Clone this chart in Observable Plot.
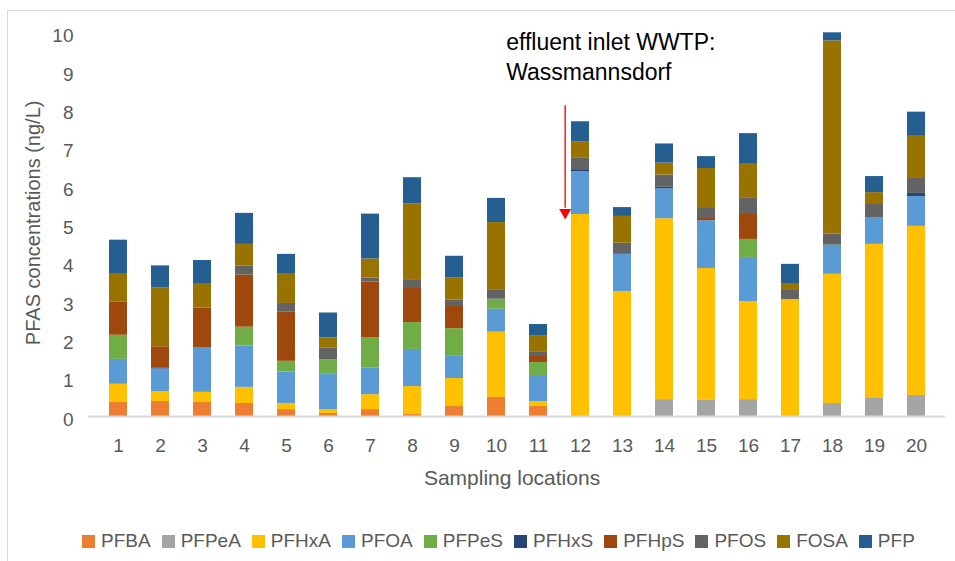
<!DOCTYPE html>
<html>
<head>
<meta charset="utf-8">
<script src="https://cdn.jsdelivr.net/npm/d3@7"></script>
<script src="https://cdn.jsdelivr.net/npm/@observablehq/plot@0.6"></script>
<style>
  html, body { margin: 0; padding: 0; background: white; }
  #wrap { position: relative; width: 955px; height: 561px; overflow: hidden; font-family: "Liberation Sans", Arial, sans-serif; }
  #border { position: absolute; left: 7px; top: 10px; width: 1000px; height: 600px; border: 1px solid #d9d9d9; box-sizing: border-box; }
  #chart { position: absolute; left: 0; top: 0; }
  #legend { position: absolute; left: 82px; top: 531px; height: 20px; display: flex; align-items: center; font-size: 19px; color: #595959; white-space: nowrap; }
  .item { display: flex; align-items: center; margin-right: 11px; }
  .sw { width: 13px; height: 13px; margin-right: 6px; }
</style>
</head>
<body>
<div id="wrap">
  <div id="border"></div>
  <div id="chart"></div>
  <div id="legend"></div>
</div>
<script>
const locations = ["1","2","3","4","5","6","7","8","9","10","11","12","13","14","15","16","17","18","19","20"];
const compounds = ["PFBA","PFPeA","PFHxA","PFOA","PFPeS","PFHxS","PFHpS","PFOS","FOSA","PFP"];
const colors = ["#ED7D31","#A5A5A5","#FFC000","#5B9BD5","#70AD47","#264478","#9E480E","#636363","#997300","#255E91"];

const PFBA  = [0.37,0.39,0.37,0.34,0.18,0.08,0.18,0.05,0.26,0.50,0.26,0,0,0,0,0,0,0,0,0];
const PFPeA = [0,0,0,0,0,0,0,0,0,0,0,0,0,0.44,0.42,0.44,0,0.34,0.47,0.55];
const PFHxA = [0.47,0.26,0.26,0.42,0.16,0.10,0.39,0.73,0.73,1.70,0.13,5.27,3.26,4.72,3.44,2.56,3.05,3.37,4.02,4.41];
const PFOA  = [0.65,0.59,1.17,1.08,0.82,0.92,0.70,0.97,0.58,0.60,0.68,1.12,0.97,0.78,1.25,1.15,0,0.76,0.70,0.78];
const PFPeS = [0.63,0,0,0.49,0.28,0.38,0.78,0.70,0.72,0.26,0.34,0,0,0,0,0.47,0,0,0,0];
const PFHxS = [0,0.03,0,0,0,0,0,0,0,0,0,0.05,0,0.05,0,0,0,0,0,0.08];
const PFHpS = [0.86,0.55,1.03,1.36,1.28,0,1.46,0.89,0.58,0,0.18,0,0,0,0.08,0.65,0,0,0,0];
const PFOS  = [0,0,0,0.23,0.23,0.31,0.10,0.23,0.17,0.23,0.10,0.31,0.29,0.31,0.26,0.42,0.26,0.29,0.34,0.39];
const FOSA  = [0.73,1.54,0.64,0.57,0.78,0.26,0.50,1.98,0.57,1.77,0.42,0.42,0.70,0.31,1.02,0.91,0.16,5.04,0.31,1.10];
const PFP   = [0.89,0.57,0.60,0.81,0.50,0.65,1.17,0.68,0.57,0.63,0.29,0.52,0.23,0.50,0.31,0.78,0.50,0.21,0.42,0.63];

const yTicks = [0,1,2,3,4,5,6,7,8,9,10];
const yLabel = "PFAS concentrations (ng/L)";
const xLabel = "Sampling locations";
const annotation = "effluent inlet WWTP:\nWassmannsdorf";
const annotationAt = "12";
const arrowFrom = 8.11, arrowTo = 5.43, arrowHead = 5.32;

const seriesValues = [PFBA, PFPeA, PFHxA, PFOA, PFPeS, PFHxS, PFHpS, PFOS, FOSA, PFP];
const rows = compounds.flatMap((c, ci) =>
  seriesValues[ci].map((v, i) => ({location: locations[i], compound: c, value: v}))
).filter(d => d.value > 0);

const plot = Plot.plot({
  width: 955,
  height: 500,
  marginTop: 32.7,
  marginBottom: 84,
  marginLeft: 88,
  marginRight: 10,
  style: {fontFamily: '"Liberation Sans", Arial, sans-serif', fontSize: "19px", color: "#595959", background: "transparent", overflow: "visible"},
  x: {domain: locations, paddingInner: 0.58, paddingOuter: 0.3, axis: null},
  y: {domain: [0, 10], axis: null},
  color: {domain: compounds, range: colors},
  marks: [
    Plot.barY(rows, {x: "location", y: "value", fill: "compound"}),
    Plot.ruleY([0], {stroke: "#d9d9d9", strokeWidth: 2}),
    Plot.axisY(yTicks, {tickSize: 0, tickPadding: 15, label: null, dy: 3, fill: "#595959"}),
    Plot.axisX({tickSize: 0, tickPadding: 22, label: null, fill: "#595959"}),
    Plot.text([yLabel], {frameAnchor: "left", textAnchor: "middle", lineAnchor: "middle", rotate: -90, dx: -55, dy: -2, fontSize: 20, fill: "#595959"}),
    Plot.text([xLabel], {frameAnchor: "bottom", textAnchor: "middle", lineAnchor: "middle", dy: 62, dx: -5, fontSize: 21, fill: "#595959"}),
    Plot.ruleX([annotationAt], {x: d => d, y1: arrowFrom, y2: arrowTo, dx: -15.3, stroke: "#ff1a1a", strokeWidth: 1.5}),
    Plot.dot([annotationAt], {x: d => d, y: arrowHead, dx: -15.3, symbol: "triangle", rotate: 180, r: 4.45, fill: "#ff0000", stroke: null}),
    Plot.text([annotation], {x: () => annotationAt, y: () => 10, dx: -74.3, dy: -4, lineAnchor: "top", textAnchor: "start", lineHeight: 1.304, fontSize: 23, fill: "black"})
  ]
});
document.getElementById("chart").appendChild(plot);

const legend = document.getElementById("legend");
compounds.forEach((c, i) => {
  const item = document.createElement("div");
  item.className = "item";
  const sw = document.createElement("div");
  sw.className = "sw";
  sw.style.background = colors[i];
  const t = document.createElement("span");
  t.textContent = c;
  item.appendChild(sw);
  item.appendChild(t);
  legend.appendChild(item);
});
</script>
</body>
</html>
